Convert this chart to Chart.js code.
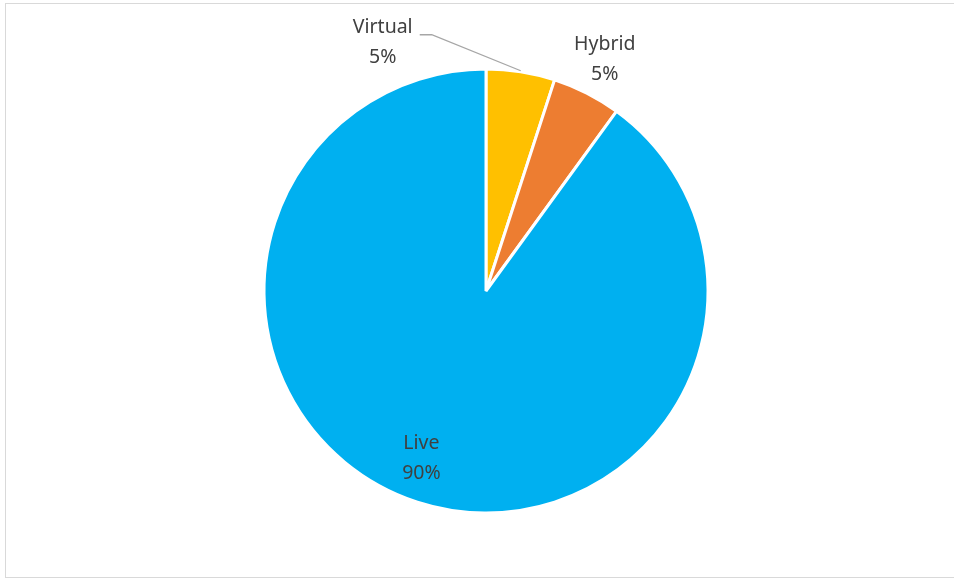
<!DOCTYPE html>
<html>
<head>
<meta charset="utf-8">
<script src="https://cdn.jsdelivr.net/npm/chart.js@4/dist/chart.umd.min.js"></script>
<style>
  html, body { margin: 0; padding: 0; background: #fff; }
  #wrap { position: relative; width: 954px; height: 579px; overflow: hidden; }
  #frame { position: absolute; left: 5px; top: 3px; width: 960px; height: 575px; border: 1px solid #d9d9d9; box-sizing: border-box; }
  canvas { position: absolute; left: 0; top: 0; }
</style>
</head>
<body>
<div id="wrap">
  <div id="frame"></div>
  <canvas id="c" width="954" height="579"></canvas>
</div>
<script>
const categories = ["Virtual", "Hybrid", "Live"];
const values = [5, 5, 90];
const percentLabels = ["5%", "5%", "90%"];
const colors = ["#FFC000", "#ED7D31", "#00B0F0"];

// label placement relative to the outer edge point at each slice's mid-angle
const labelOffsets = [[-138, -29], [18, -34], [4, -44]];

const labelPlugin = {
  id: 'sliceLabels',
  afterDatasetsDraw(chart) {
    const ctx = chart.ctx;
    const meta = chart.getDatasetMeta(0);
    ctx.save();
    ctx.font = '19.5px "Noto Sans", sans-serif';
    ctx.fillStyle = '#404040';
    ctx.textAlign = 'center';
    ctx.textBaseline = 'middle';
    meta.data.forEach((arc, i) => {
      const p = arc.getProps(['x', 'y', 'startAngle', 'endAngle', 'outerRadius'], true);
      const mid = (p.startAngle + p.endAngle) / 2;
      const ax = p.x + Math.cos(mid) * p.outerRadius;
      const ay = p.y + Math.sin(mid) * p.outerRadius;
      const lx = ax + labelOffsets[i][0];
      const ly = ay + labelOffsets[i][1];
      if (i === 0) {
        ctx.strokeStyle = '#A6A6A6';
        ctx.lineWidth = 1.3;
        ctx.beginPath();
        ctx.moveTo(ax, ay - 1);
        ctx.lineTo(lx + 49, ly - 8);
        ctx.lineTo(lx + 37, ly - 8);
        ctx.stroke();
      }
      ctx.fillText(categories[i], lx, ly - 15);
      ctx.fillText(percentLabels[i], lx, ly + 15);
    });
    ctx.restore();
  }
};

new Chart(document.getElementById('c'), {
  type: 'pie',
  data: {
    labels: categories,
    datasets: [{
      data: values,
      backgroundColor: colors,
      borderColor: '#ffffff',
      borderWidth: 3,
      radius: 222
    }]
  },
  options: {
    responsive: false,
    animation: false,
    layout: { padding: { left: 18, top: 3, right: 0, bottom: 0 } },
    plugins: { legend: { display: false }, tooltip: { enabled: false } }
  },
  plugins: [labelPlugin]
});
</script>
</body>
</html>
